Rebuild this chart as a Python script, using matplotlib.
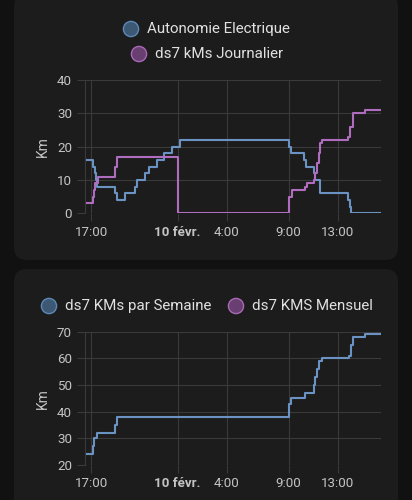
import matplotlib
matplotlib.use("Agg")
import matplotlib.pyplot as plt
from matplotlib.patches import FancyBboxPatch, Circle
import pandas as pd

plt.rcParams['font.family'] = ['Roboto', 'DejaVu Sans']

# Fenêtre affichée (24 h)
t_start = "2024-02-09 16:30"
t_end = "2024-02-10 16:30"

# Autonomie Electrique (km)
auto_times = ["2024-02-09 16:30", "2024-02-09 17:08", "2024-02-09 17:18", "2024-02-09 17:25",
              "2024-02-09 17:28", "2024-02-09 18:57", "2024-02-09 19:05", "2024-02-09 19:46",
              "2024-02-09 20:32", "2024-02-09 20:44", "2024-02-09 21:23", "2024-02-09 21:39",
              "2024-02-09 22:20", "2024-02-09 22:52", "2024-02-09 23:33", "2024-02-10 00:13",
              "2024-02-10 09:04", "2024-02-10 09:13", "2024-02-10 10:13", "2024-02-10 10:25",
              "2024-02-10 11:02", "2024-02-10 11:10", "2024-02-10 11:31", "2024-02-10 13:49",
              "2024-02-10 14:01", "2024-02-10 14:05", "2024-02-10 16:30"]
auto_km = [16, 14, 12, 10, 8, 6, 4, 6, 8, 10, 12, 14, 16, 18, 20, 22,
           20, 18, 16, 14, 12, 10, 6, 4, 2, 0, 0]

# ds7 kMs Journalier
jour_times = ["2024-02-09 16:30", "2024-02-09 17:08", "2024-02-09 17:13", "2024-02-09 17:18",
              "2024-02-09 17:31", "2024-02-09 18:57", "2024-02-09 19:08", "2024-02-10 00:02",
              "2024-02-10 09:04", "2024-02-10 09:17", "2024-02-10 10:22", "2024-02-10 10:29",
              "2024-02-10 11:02", "2024-02-10 11:10", "2024-02-10 11:17", "2024-02-10 11:26",
              "2024-02-10 11:31", "2024-02-10 11:43", "2024-02-10 13:49", "2024-02-10 14:01",
              "2024-02-10 14:16", "2024-02-10 15:13", "2024-02-10 16:30"]
jour_km = [3, 5, 7, 9, 11, 14, 17, 0, 5, 7, 8, 9, 10, 12, 15, 18, 21, 22, 23, 26, 30, 31, 31]

# ds7 KMs par Semaine
sem_times = ["2024-02-09 16:30", "2024-02-09 17:07", "2024-02-09 17:15", "2024-02-09 17:28",
             "2024-02-09 18:57", "2024-02-09 19:08", "2024-02-10 09:04", "2024-02-10 09:13",
             "2024-02-10 10:22", "2024-02-10 11:02", "2024-02-10 11:07", "2024-02-10 11:20",
             "2024-02-10 11:26", "2024-02-10 11:43", "2024-02-10 13:52", "2024-02-10 14:05",
             "2024-02-10 14:16", "2024-02-10 15:13", "2024-02-10 16:30"]
sem_km = [24, 27, 30, 32, 35, 38, 43, 45, 47, 50, 53, 56, 59, 60, 61, 65, 68, 69, 69]

# ds7 KMS Mensuel (hors échelle, non visible)
mens_times = []
mens_km = []

tick_times = ["2024-02-09 17:00", "2024-02-10 00:00", "2024-02-10 04:00",
              "2024-02-10 09:00", "2024-02-10 13:00"]
tick_labels = ["17:00", "10 févr.", "4:00", "9:00", "13:00"]

BLUE = '#6a93c3'
PURPLE = '#b06cbf'
GRID = '#3a3a3a'
TXT = '#c4c4c4'

fig = plt.figure(figsize=(4.12, 5.0), dpi=100)
fig.patch.set_facecolor('#111111')

# fond des cartes, en pixels
bg = fig.add_axes([0, 0, 1, 1], zorder=0)
bg.set_xlim(0, 412)
bg.set_ylim(500, 0)
bg.axis('off')
for y0, y1 in [(-6, 260), (269, 520)]:
    bg.add_patch(FancyBboxPatch((14, y0), 384, y1 - y0,
                                boxstyle="round,pad=0,rounding_size=13",
                                fc='#1c1c1c', ec='none'))


def legend_item(x, y, color_fc, color_ec, label):
    bg.add_patch(Circle((x, y), 7.6, fc=color_fc, ec=color_ec, lw=1.0))
    bg.text(x + 16, y, label, color='#e0e0e0', fontsize=10.9, va='center', ha='left')


legend_item(131, 29, '#3c5875', '#5d88b5', "Autonomie Electrique")
legend_item(139, 54, '#693f72', '#a868b5', "ds7 kMs Journalier")
legend_item(49, 306, '#3c5875', '#5d88b5', "ds7 KMs par Semaine")
legend_item(236, 306, '#693f72', '#a868b5', "ds7 KMS Mensuel")


def style_axes(ax, yticks):
    ax.set_facecolor('none')
    ax.set_xlim(pd.to_datetime(t_start), pd.to_datetime(t_end))
    ax.set_ylim(yticks[0], yticks[-1])
    ax.set_yticks(yticks)
    ax.set_xticks(pd.to_datetime(tick_times))
    ax.set_xticklabels(tick_labels)
    ax.get_xticklabels()[1].set_fontweight('bold')
    ax.get_xticklabels()[1].set_color('#e6e6e6')
    ax.grid(True, color=GRID, lw=0.8)
    ax.set_axisbelow(True)
    for s in ['top', 'right', 'bottom']:
        ax.spines[s].set_visible(False)
    ax.spines['left'].set_color(GRID)
    ax.spines['left'].set_linewidth(0.8)
    ax.tick_params(axis='both', length=5.8, width=0.8, color=GRID,
                   labelcolor=TXT, labelsize=9.6)
    ax.tick_params(axis='y', pad=3.6)
    ax.tick_params(axis='x', pad=3)
    ax.set_ylabel("Km", color=TXT, fontsize=10, labelpad=5)


ax1 = fig.add_axes([85 / 412, 1 - 213.3 / 500, 296 / 412, 133.3 / 500], zorder=1)
ax1.step(pd.to_datetime(auto_times), auto_km, where='post', color=BLUE, lw=1.5)
ax1.step(pd.to_datetime(jour_times), jour_km, where='post', color=PURPLE, lw=1.5)
style_axes(ax1, [0, 10, 20, 30, 40])

ax2 = fig.add_axes([85 / 412, 1 - 465 / 500, 296 / 412, 133.3 / 500], zorder=1)
ax2.step(pd.to_datetime(sem_times), sem_km, where='post', color=BLUE, lw=1.5)
ax2.step(pd.to_datetime(mens_times), mens_km, where='post', color=PURPLE, lw=1.5)
style_axes(ax2, [20, 30, 40, 50, 60, 70])

fig.savefig("out.png", dpi=100, facecolor=fig.get_facecolor())
